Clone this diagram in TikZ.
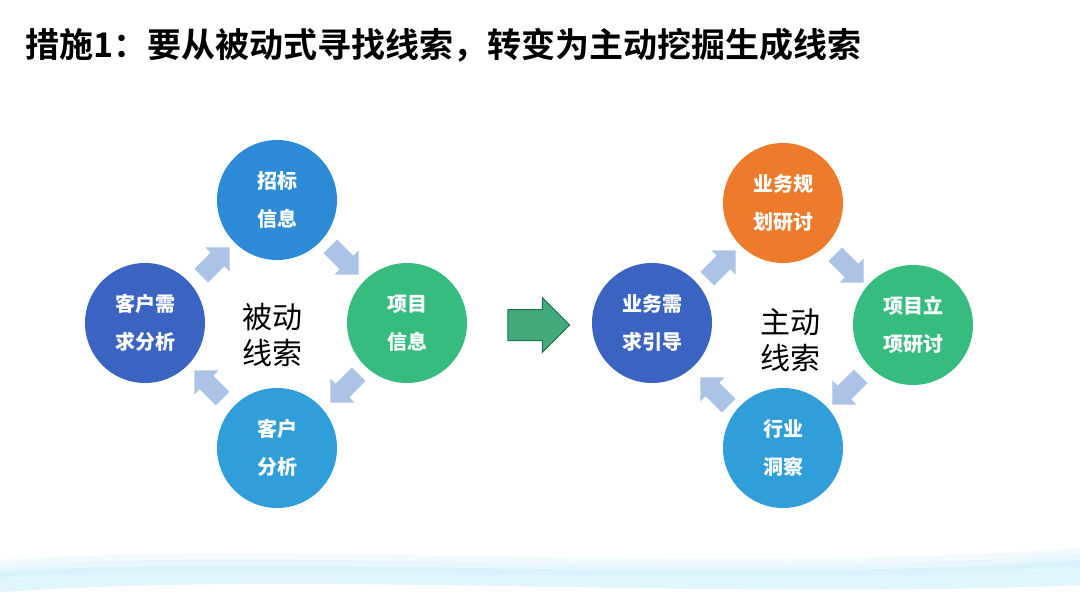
\documentclass[tikz,border=0pt]{standalone}
\usepackage{fontspec}
\newfontfamily\cjk{Noto Sans CJK SC}
\newfontfamily\cjkb{Noto Sans CJK SC Bold}
\usetikzlibrary{shapes.arrows}
\definecolor{cA}{HTML}{2C8AD6}
\definecolor{cG}{HTML}{35BC7E}
\definecolor{cB}{HTML}{2F9ED9}
\definecolor{cD}{HTML}{3B64C2}
\definecolor{cO}{HTML}{EE7A2C}
\definecolor{ar}{HTML}{ABC3E6}
\tikzset{
 circ/.style={circle,minimum size=120pt,inner sep=0pt,text=white,font=\cjk\bfseries\fontsize{20}{38}\selectfont,align=center},
 sarr/.style={single arrow,fill=ar,minimum height=40pt,minimum width=34pt,single arrow head extend=7pt,inner xsep=0pt,inner ysep=9pt},
 ctext/.style={font=\cjk\fontsize{30}{36}\selectfont,align=center}
}
\begin{document}
\begin{tikzpicture}[x=1pt,y=-1pt]
\useasboundingbox[fill=white] (0,0) rectangle (1080,608);
% bottom waves
\foreach \o/\c in {0/8,6/12,12/18,18/10}{
 \fill[cyan!\c,opacity=0.6] (0,560+\o) .. controls (300,540+\o) and (700,575+\o) .. (1080,548+\o) -- (1080,585) .. controls (700,600) and (300,570) .. (0,592) -- cycle;}
\node[anchor=west,font=\cjkb\fontsize{34}{38}\selectfont] (title) at (22,45) {措施1：要从被动式寻找线索，转变为主动挖掘生成线索};
% left cycle
\node[circ,fill=cA] (a1) at (277,200) {招标\\信息};
\node[circ,fill=cG] (a2) at (407,323) {项目\\信息};
\node[circ,fill=cB] (a3) at (277,448) {客户\\分析};
\node[circ,fill=cD] (a4) at (145,323) {客户需\\求分析};
\node[ctext] (ac) at (272,335) {被动\\线索};
\node[sarr,rotate=45] (aa1) at (212,265) {};
\node[sarr,rotate=-45] (aa2) at (341,257) {};
\node[sarr,rotate=-135] (aa3) at (348,385) {};
\node[sarr,rotate=135] (aa4) at (212,388) {};
% big arrow
\node[single arrow,fill=cG!85!black!90,draw=cG!60!black,line width=1pt,minimum height=62pt,minimum width=54pt,single arrow head extend=12pt,inner xsep=0pt,inner ysep=15pt] (big) at (531,325) {};
% right cycle
\node[circ,fill=cO] (b1) at (783,203) {业务规\\划研讨};
\node[circ,fill=cG] (b2) at (913,325) {项目立\\项研讨};
\node[circ,fill=cB] (b3) at (783,448) {行业\\洞察};
\node[circ,fill=cD] (b4) at (652,323) {业务需\\求引导};
\node[ctext] (bc) at (790,340) {主动\\线索};
\node[sarr,rotate=45] (ba1) at (718,268) {};
\node[sarr,rotate=-45] (ba2) at (846,265) {};
\node[sarr,rotate=-135] (ba3) at (850,387) {};
\node[sarr,rotate=135] (ba4) at (718,395) {};
\end{tikzpicture}
\end{document}
